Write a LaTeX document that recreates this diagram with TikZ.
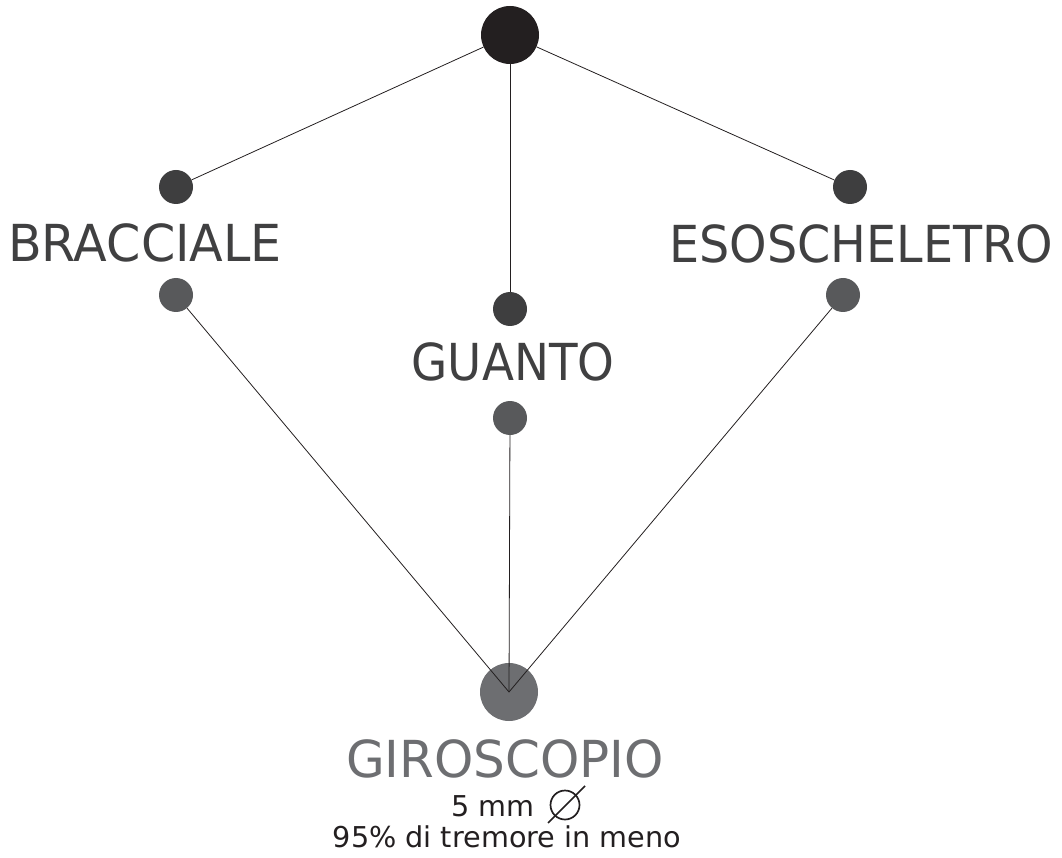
\documentclass[tikz,border=0pt]{standalone}
\usepackage{fontspec}
\setmainfont{DejaVu Sans}
\definecolor{topc}{HTML}{231F20}
\definecolor{dotA}{HTML}{3E3E3F}
\definecolor{dotB}{HTML}{58595B}
\definecolor{giro}{HTML}{6D6E71}
\definecolor{txt}{HTML}{404041}
\begin{document}
\begin{tikzpicture}[x=1pt,y=-1pt,
  dotup/.style={circle,fill=dotA,inner sep=0pt,minimum size=34pt},
  dotdn/.style={circle,fill=dotB,inner sep=0pt,minimum size=34pt},
  lab/.style={anchor=base,text=txt,font=\fontsize{51}{51}\selectfont,inner sep=0pt},
  small/.style={anchor=base,text=topc,font=\fontsize{28.7}{28.7}\selectfont,inner sep=0pt},
  conn/.style={draw=topc,line width=0.8pt}]
\useasboundingbox (0,0) rectangle (1062,858);
% nodes
\node[circle,fill=topc,inner sep=0pt,minimum size=58pt] (top) at (510,35) {};
\node[dotup] (bu) at (176,187) {};
\node[dotdn] (bd) at (176,295) {};
\node[dotup] (gu) at (510,309) {};
\node[dotdn] (gd) at (510,418) {};
\node[dotup] (eu) at (850,187) {};
\node[dotdn] (ed) at (843,295) {};
\node[circle,fill=giro,inner sep=0pt,minimum size=58pt] (gy) at (509,692) {};
\coordinate (gyc) at (509,692);
% labels
\node[lab] (bl) at (145,262) {\scalebox{0.964}[1]{BRACCIALE}};
\node[lab] (gl) at (513,380) {\scalebox{0.917}[1]{GUANTO}};
\node[lab] (el) at (861,263) {\scalebox{0.934}[1]{ESOSCHELETRO}};
\node[lab,text=giro] (yl) at (505,777) {\scalebox{0.98}[1]{GIROSCOPIO}};
\node[small,anchor=base east] (mm) at (535,816) {5 mm};
\node[circle,draw=topc,line width=1.7pt,inner sep=0pt,minimum size=29pt] (dia) at (565,805) {};
\coordinate (dia1) at (548,823);
\coordinate (dia2) at (585,786);
\draw[topc,line width=1.7pt] (dia1) -- (dia2);
\node[small] (tr) at (507,847) {95\% di tremore in meno};
% connectors
\draw[conn] (top) -- (bu);
\draw[conn] (top) -- (gu);
\draw[conn] (top) -- (eu);
\draw[conn] (bd) -- (gyc);
\draw[conn] (gd) -- (gyc);
\draw[conn] (ed) -- (gyc);
\end{tikzpicture}
\end{document}
